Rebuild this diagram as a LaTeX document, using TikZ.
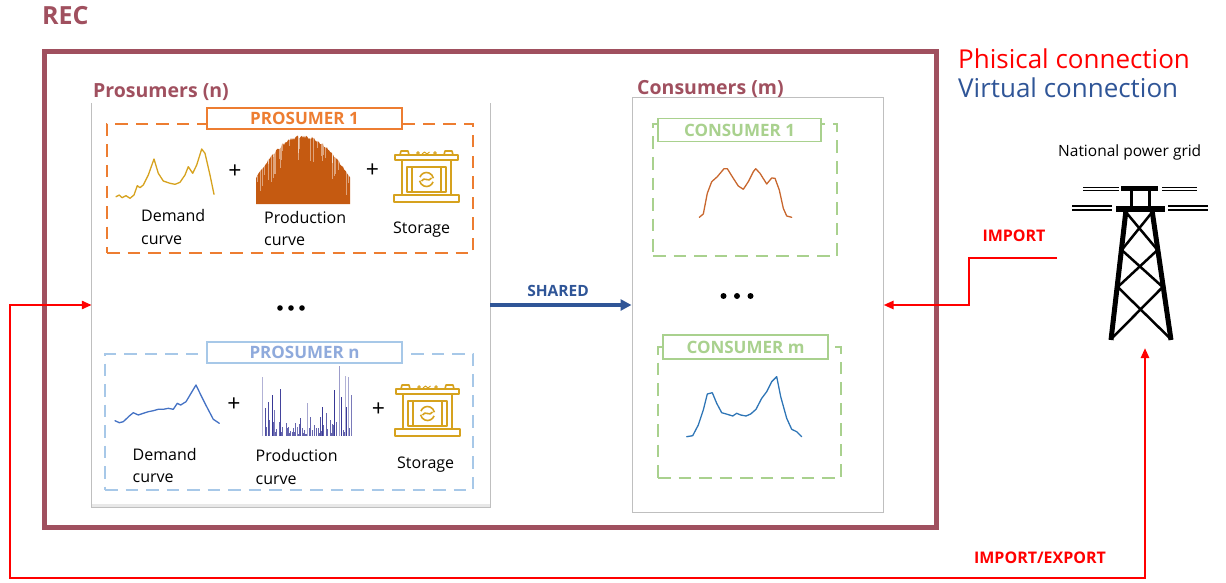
\documentclass[tikz,border=0pt]{standalone}
\usepackage{fontspec}
\setmainfont{Open Sans}
\usetikzlibrary{arrows.meta}
\definecolor{recred}{HTML}{A0505F}
\definecolor{porange}{HTML}{ED7D31}
\definecolor{pblue}{HTML}{A7C8E8}
\definecolor{pbluetext}{HTML}{8FAADC}
\definecolor{cgreen}{HTML}{A9D18E}
\definecolor{vblue}{HTML}{2F5597}
\definecolor{gold}{HTML}{D6A21E}
\definecolor{prodorange}{HTML}{C55A11}
\definecolor{navy}{HTML}{22228A}
\definecolor{cAcurve}{HTML}{C8672E}
\definecolor{cBcurve}{HTML}{2E75B6}
\definecolor{pncurve}{HTML}{4472C4}
\definecolor{panelgray}{HTML}{BFBFBF}
\newcommand\fsz[2]{\fontsize{#1}{#2}\selectfont}

\tikzset{
  titlebox/.style={draw=#1, fill=white, line width=1.5, inner sep=0,
    font=\fsz{17}{20}\bfseries},
  dashbox/.style={draw=#1, dash pattern=on 12.5pt off 8pt, line width=2.5, inner sep=0},
  lbl/.style={font=\fsz{16}{22.5}, align=left, inner sep=0, anchor=base west},
  plus/.style={font=\fsz{23}{23}, inner sep=0},
  curve/.style={line width=1.3, line join=round, line cap=round},
  redline/.style={red, line width=2.5},
  redtip/.style={-{Triangle[length=10pt,width=8pt]}},
  redtips/.style={{Triangle[length=10pt,width=8pt]}-{Triangle[length=10pt,width=8pt]}},
  battery/.pic={
    \begin{scope}[gold, line width=1.6, line join=round]
      \draw (1,7) rectangle (64,12);
      \draw (6,7) -- (7,3) -- (14,3) -- (15,7);
      \draw (50,7) -- (51,3) -- (58,3) -- (59,7);
      \draw[line width=1] (24,5) circle (1.3) (41,5) circle (1.3);
      \draw[line width=1] (28,6) -- (30.5,4) -- (33,6) -- (35.5,4);
      \draw (8,12) rectangle (57,47);
      \draw (13,19) rectangle (52,44);
      \draw (18,19) -- (18,44) (47,19) -- (47,44);
      \draw (0,47) rectangle (65,54);
      \draw (32.5,31.5) ++(20:7) arc[start angle=20, end angle=170, radius=7];
      \draw (32.5,31.5) ++(200:7) arc[start angle=200, end angle=350, radius=7];
      \draw (27.5,33) .. controls (30,28) and (35,35) .. (37.5,30);
    \end{scope}
  }
}

\begin{document}
\begin{tikzpicture}[x=1pt,y=-1pt]
\useasboundingbox (0,0) rectangle (1226,583);
\pgfmathsetseed{7}

% community frame and title
\node[font=\fsz{25}{28}\bfseries, text=recred, inner sep=0, anchor=base west] (rectitle) at (42,25) {REC};
\node[draw=recred, line width=5, minimum width=892, minimum height=475, inner sep=0] (rec) at (490,289.5) {};

% prosumer panel (open at the top)
\node[minimum width=398, minimum height=404, inner sep=0] (prospanel) at (291,305) {};
\draw[gray!18, line width=2.5] ([yshift=1.5pt]prospanel.south west) -- ([yshift=1.5pt]prospanel.south east);
\draw[panelgray, line width=1] (prospanel.north west) -- (prospanel.south west) -- (prospanel.south east) -- (prospanel.north east);
\node[font=\fsz{19.5}{22}\bfseries, text=recred, inner sep=0, anchor=base west] (prostitle) at (93,98) {Prosumers (n)};

% consumer panel
\node[draw=panelgray, line width=1, minimum width=251, minimum height=414, inner sep=0] (conspanel) at (757.5,305) {};
\node[font=\fsz{19.5}{22}\bfseries, text=recred, inner sep=0, anchor=base west] (constitle) at (637,95) {Consumers (m)};

% ---------- PROSUMER 1 ----------
\node[dashbox=porange, minimum width=366, minimum height=129] (pAbox) at (290,188.5) {};
\node[titlebox=porange, text=porange, minimum width=195, minimum height=21] (pAtitle) at (304.5,118.5) {PROSUMER 1};
\draw[gold, curve] plot coordinates {(116,196.7) (119.3,195) (122,197.7) (126,195.7) (130,198.3) (134,195) (137.3,185.7) (140,187.7) (143.3,185) (148.3,175) (154,159) (158.3,173.3) (163.3,181) (170,183.3) (175,184.3) (180,182.3) (185,175) (188.3,166.7) (192.7,173.3) (196.7,165) (201.7,149) (205,153.3) (210,175) (214,194.3)};
\fill[prodorange] (256,204) \foreach \x in {256,257,...,350}{ -- (\x,{204-69*sin((\x-240)*1.428571)*(0.95+0.05*rnd)}) } -- (350,204) -- cycle;
\foreach \i in {1,...,34}{
  \pgfmathsetmacro\xpos{257+92*rnd}
  \pgfmathsetmacro\ytop{204-69*sin((\xpos-240)*1.428571)}
  \pgfmathsetmacro\slen{4+22*rnd}
  \draw[white, opacity=0.45, line width=0.5] (\xpos,\ytop) -- ++(0,\slen);
}
\pic at (394,148) {battery};
\node[plus] (pAplusA) at (235,172) {+};
\node[plus] (pAplusB) at (372.5,171) {+};
\node[lbl] (pAdem) at (141,244) {Demand\\curve};
\node[lbl] (pAprod) at (264,245.5) {Production\\curve};
\node[lbl] (pAstor) at (393,233) {Storage};

% prosumer dots
\fill (280,308) circle (2.8) (291,308) circle (2.8) (302,308) circle (2.8);

% ---------- PROSUMER n ----------
\node[dashbox=pblue, minimum width=368, minimum height=136] (pNbox) at (289,422) {};
\node[titlebox=pblue, text=pbluetext, minimum width=195, minimum height=21] (pNtitle) at (304.5,352.5) {PROSUMER n};
\draw[pncurve, curve] plot coordinates {(115,420.7) (119.3,422.7) (123.3,421.7) (129.3,416) (133.3,412.7) (138.3,415) (143.3,413.3) (148.3,411.7) (153.3,410.7) (158.3,409.3) (163.3,409.3) (168.3,408.3) (173.3,409.3) (177.3,403.3) (180.7,405) (186,401.7) (190,395) (196,385) (200,393.3) (206.7,406.7) (213.3,419.3) (219.3,423.3)};
\foreach \i in {1,...,70}{
  \pgfmathsetmacro\xpos{262+90*rnd}
  \pgfmathsetmacro\ytop{435.5-(1.5+16*rnd*rnd)}
  \draw[navy!70, line width=0.6] (\xpos,435.5) -- (\xpos,\ytop);
}
\foreach \xpos/\ytop/\shade in {262.7/376.7/35, 265/408/80, 268.3/401.7/80, 272.7/395/90, 274.3/410/60, 280.7/389.3/85, 286.7/423.3/70, 293.3/428.3/70, 297.7/426.7/60, 300/418.3/80, 307.7/402.7/40, 310/416.7/70, 314/425/70, 320/416.7/80, 322.3/406.7/90, 326.7/412.7/70, 330/420/70, 334.3/390/90, 336.7/421.7/70, 339.3/366/45, 341.7/396.7/90, 345/376/35, 346.7/406.7/90, 348.3/376.7/40, 351/395/60}{
  \draw[navy!\shade, line width=0.8] (\xpos,435.5) -- (\xpos,\ytop);
}
\pic at (395,382) {battery};
\node[plus] (pNplusA) at (234,405) {+};
\node[plus] (pNplusB) at (378.5,410) {+};
\node[lbl] (pNdem) at (132.5,482.7) {Demand\\curve};
\node[lbl] (pNprod) at (255.5,484) {Production\\curve};
\node[lbl] (pNstor) at (397,468.5) {Storage};

% ---------- CONSUMER 1 ----------
\node[dashbox=cgreen, minimum width=184, minimum height=132] (cAbox) at (745,190) {};
\node[titlebox=cgreen, text=cgreen, minimum width=163, minimum height=23] (cAtitle) at (739.5,130) {CONSUMER 1};
\draw[cAcurve, curve] plot coordinates {(699.3,217.3) (703.3,214) (707.3,193.3) (711.7,181.7) (717.3,176.7) (724,168.7) (727.3,168.7) (733.3,178.3) (738.3,186) (743.3,189.3) (748.3,181.7) (753.3,171.7) (755.7,168.7) (760,173.3) (766.7,184) (771.7,178) (775,178.3) (779.3,190) (783.3,208.3) (786.7,216) (791.7,217.3)};

% consumer dots
\fill (723.5,296) circle (3) (737,296) circle (3) (750.5,296) circle (3);

% ---------- CONSUMER m ----------
\node[dashbox=cgreen, minimum width=183, minimum height=131] (cMbox) at (749.5,412.5) {};
\node[titlebox=cgreen, text=cgreen, minimum width=165, minimum height=24] (cMtitle) at (745.5,347) {CONSUMER m};
\draw[cBcurve, curve] plot coordinates {(686.7,436.7) (692.7,435.7) (698.3,425) (703.3,410) (707.3,394) (712.3,392.7) (716.7,403.3) (721.7,412.7) (727.3,414.3) (732.7,416) (736.7,413.3) (740.7,415) (746,416) (750.7,414) (756,409.3) (761.7,398.3) (766.7,391.7) (771.7,381.7) (776.7,376.7) (780.7,396.7) (786.7,418.3) (791.7,429.3) (796.7,431.7) (801.7,436.7)};

% virtual sharing between members
\draw[vblue, line width=3.5, -{Triangle[length=11pt,width=11pt]}] (prospanel.east) -- (conspanel.west);
\node[font=\fsz{15.5}{18}\bfseries, text=vblue, inner sep=0, anchor=base] (shared) at (558,296.5) {SHARED};

% legend
\node[font=\fsz{26}{30}, text=red, inner sep=0, anchor=base west] (legphys) at (958,69) {Phisical connection};
\node[font=\fsz{26}{30}, text=vblue, inner sep=0, anchor=base west] (legvirt) at (958,98) {Virtual connection};

% transmission tower
\node[font=\fsz{15.5}{18}, inner sep=0, anchor=base west] (gridlabel) at (1058,156.7) {National power grid};
\begin{scope}[line cap=butt]
  \draw[line width=1.3] (1083,187.3) -- (1119,187.3) (1083,190.7) -- (1119,190.7)
                        (1162,187.3) -- (1197,187.3) (1162,190.7) -- (1197,190.7);
  \draw[line width=1.5] (1072,206) -- (1112,206) (1072,210) -- (1112,210)
                        (1168,206) -- (1208,206) (1168,210) -- (1208,210);
  \draw[line width=5] (1121,188) -- (1158,188);
  \draw[line width=6] (1116,208.5) -- (1165,208.5);
  \draw[line width=3] (1131,188) -- (1131,208) (1149,188) -- (1149,208);
  \draw[line width=5] (1126,210) -- (1111,340) (1152,210) -- (1171,340);
  \draw[line width=2.5] (1125.8,212) -- (1157.5,250) (1152.3,212) -- (1121.7,250)
                        (1121.7,250) -- (1162.7,287) (1157.5,250) -- (1117.7,287)
                        (1117.7,287) -- (1169.7,338) (1162.7,287) -- (1112.2,338);
\end{scope}
\coordinate (gridin) at (1057,258);
\coordinate (towerbase) at (1145,348);

% physical connections
\draw[redline, redtip] (gridin) -- (969,258) |- (conspanel.east);
\node[font=\fsz{16}{18}\bfseries, text=red, inner sep=0, anchor=base] (importlbl) at (1014,241.5) {IMPORT};
\coordinate (loopL) at (10,578);
\coordinate (loopR) at (1145,578);
\draw[redline, redtips] (prospanel.west) -- (prospanel.west -| loopL) -- (loopL) -- (loopR) -- (towerbase);
\node[font=\fsz{16}{18}\bfseries, text=red, inner sep=0, anchor=base] (impexplbl) at (1040,563.5) {IMPORT/EXPORT};
\end{tikzpicture}
\end{document}
